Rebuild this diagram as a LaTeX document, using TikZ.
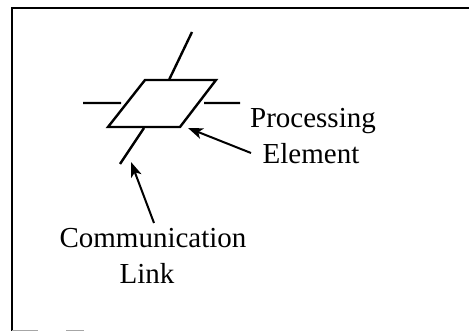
\documentclass[tikz,border=0pt]{standalone}
\usepackage{fontspec}
\setmainfont{Liberation Serif}
\usetikzlibrary{arrows.meta}
\begin{document}
\begin{tikzpicture}[x=1pt,y=-1pt,
  frame/.style={line width=2pt,black},
  shapeline/.style={line width=2.4pt,black,line join=miter},
  pointer/.style={line width=2pt,-{Stealth[length=15pt,width=11pt,inset=4pt]}},
  lbl/.style={font=\fontsize{29}{36}\selectfont,inner sep=0pt,anchor=base}]
\useasboundingbox (0,0) rectangle (469,331);
% frame
\draw[frame] (12,331) -- (12,8) -- (469,8);
\draw[line width=1.2pt,gray!70] (12,330.5) -- (38,330.5) (66,330.5) -- (84,330.5);
% processing element (parallelogram)
\coordinate (tl) at (145,80);
\coordinate (tr) at (216,80);
\coordinate (br) at (180,127);
\coordinate (bl) at (108,127);
\draw[shapeline] (tl) -- (tr) -- (br) -- (bl) -- cycle;
% communication links
\coordinate (u1) at (169,80);  \coordinate (u2) at (192,32);
\coordinate (d1) at (144,128); \coordinate (d2) at (120,164);
\coordinate (l1) at (83,103);  \coordinate (l2) at (121,103);
\coordinate (r1) at (204,103); \coordinate (r2) at (240,103);
\draw[shapeline] (u1) -- (u2) (d1) -- (d2) (l1) -- (l2) (r1) -- (r2);
% labels
\node[lbl] (pe1) at (313,128) {Processing};
\node[lbl] (pe2) at (311,164) {Element};
\node[lbl] (cl1) at (153,248) {Communication};
\node[lbl] (cl2) at (147,284) {Link};
% arrows
\coordinate (pes) at (251,153);
\coordinate (pet) at (188,128);
\coordinate (cls) at (154,223);
\coordinate (clt) at (131,162);
\draw[pointer] (pes) -- (pet);
\draw[pointer] (cls) -- (clt);
\end{tikzpicture}
\end{document}
